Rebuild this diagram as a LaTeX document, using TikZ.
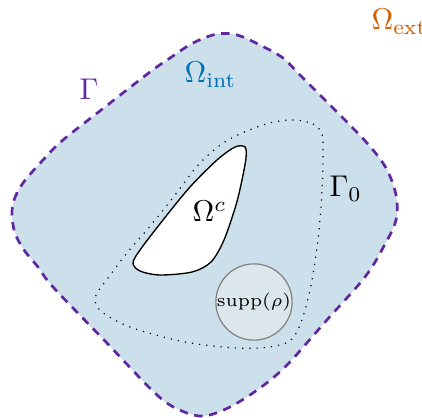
\documentclass[tikz,border=0pt]{standalone}
\usepackage{amsmath}
\definecolor{intfill}{RGB}{204,224,235}
\definecolor{suppfill}{RGB}{220,230,237}
\definecolor{gammacol}{RGB}{95,40,160}
\definecolor{intcol}{RGB}{0,114,178}
\definecolor{extcol}{RGB}{213,94,0}
\tikzset{
  outer/.style={draw=gammacol, line width=0.9pt, dash pattern=on 2.8pt off 2.2pt, fill=intfill},
  inner/.style={draw=black, line width=0.45pt, fill=white},
  gammazero/.style={draw=black, line width=0.4pt, dotted},
  suppbox/.style={circle, draw=gray, line width=0.4pt, fill=suppfill, minimum size=75*0.333pt, inner sep=0pt},
  lbl/.style={inner sep=0pt, anchor=base west}
}
\begin{document}
\begin{tikzpicture}[x=0.333pt, y=-0.333pt]
\useasboundingbox (0,0) rectangle (422,418);
% outer boundary Gamma
\draw[outer] plot[smooth cycle, tension=0.55] coordinates {
 (12,215) (14,200) (23,183) (43,160) (63,140) (105,107) (150,72) (170,58)
 (193,43) (217,34) (237,35) (260,45) (283,58) (300,75) (335,110) (367,143)
 (386,168) (396,195) (396,220) (384,246) (365,277) (326,321) (287,365)
 (260,388) (230,407) (204,416) (182,411) (157,395) (105,341) (53,287)
 (38,267) (24,250) (15,233)};
% dotted Gamma_0
\draw[gammazero] plot[smooth cycle, tension=0.55] coordinates {
 (293,120) (313,124) (322,134) (323,152) (322,190) (318,240) (310,290)
 (300,325) (288,342) (260,348) (223,347) (180,341) (130,327) (102,312)
 (95,300) (99,290) (108,278) (127,253) (151,225) (175,195) (200,163)
 (228,140) (266,124)};
% Omega^c
\draw[inner] plot[smooth cycle, tension=0.5] coordinates {
 (245,147) (246,158) (242,180) (236,205) (224,240) (211,262) (192,272)
 (160,275) (140,271) (133,263) (140,250) (163,220) (190,187) (217,160)
 (235,147)};
% support of rho
\node[suppbox] (supp) at (254,302) {\fontsize{6.3}{7}\selectfont$\operatorname{supp}(\rho)$};
% labels
\node[lbl, text=extcol] (oext) at (371,30) {$\Omega_{\text{ext}}$};
\node[lbl, text=gammacol] (gam) at (79,100) {$\Gamma$};
\node[lbl, text=intcol] (oint) at (184,83) {$\Omega_{\text{int}}$};
\node[lbl] (gam0) at (329,197) {$\Gamma_0$};
\node[lbl] (oc) at (192,222) {$\Omega^c$};
\end{tikzpicture}
\end{document}
